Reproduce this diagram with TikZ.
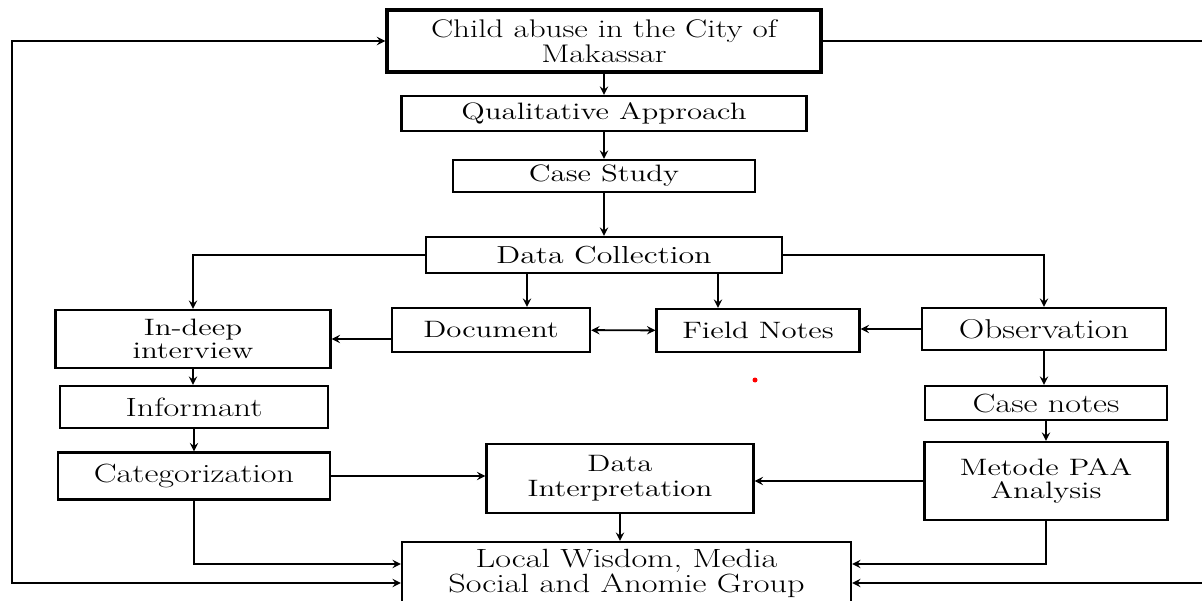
\documentclass[tikz,border=0pt]{standalone}
\usepackage{fontspec}
\setmainfont{Latin Modern Roman}[FakeStretch=1.3]
\usetikzlibrary{arrows, positioning, calc}
\tikzstyle{box} = [rectangle, draw=black, line width=1.3pt, text centered, align=center, inner sep=2pt, font=\fontsize{13.5}{13}\selectfont]
\tikzstyle{bigtext} = [font=\fontsize{15}{13}\selectfont]
\tikzstyle{mainbox} = [box, line width=2pt, font=\fontsize{14.5}{14.2}\selectfont]
\tikzstyle{arrow} = [line width=1.1pt,->,>=stealth]

\begin{document}
\begin{tikzpicture}[x=0.02cm, y=-0.02cm]
\clip (0,0) rectangle (1202,601);

\node (child) [mainbox, minimum width=8.68cm, minimum height=1.24cm] at (604,41) {Child abuse in the City of\\Makassar};
\node (qual) [box, minimum width=8.1cm, minimum height=0.7cm] at (604,113.5) {Qualitative Approach};
\node (case) [box, minimum width=6.04cm, minimum height=0.64cm] at (604,176) {Case Study};
\node (dc) [box, font=\fontsize{14}{13}\selectfont, minimum width=7.12cm, minimum height=0.72cm] at (604,255) {Data Collection};
\node (indeep) [box, minimum width=5.5cm, minimum height=1.16cm] at (193,339) {In-deep\\interview};
\node (doc) [box, minimum width=3.96cm, minimum height=0.88cm] at (491,330) {Document};
\node (field) [box, minimum width=4.06cm, minimum height=0.86cm] at (758,330.5) {Field Notes};
\node (obs) [box, font=\fontsize{15.5}{13}\selectfont, minimum width=4.88cm, minimum height=0.84cm] at (1044,329) {Observation};
\node (inf) [box, bigtext, minimum width=5.36cm, minimum height=0.84cm] at (194,407) {Informant};
\node (casen) [box, bigtext, minimum width=4.84cm, minimum height=0.68cm] at (1046,403) {Case notes};
\node (cat) [box, bigtext, minimum width=5.44cm, minimum height=0.94cm] at (194,476) {Categorization};
\node (interp) [box, font=\fontsize{13.5}{14.2}\selectfont, minimum width=5.34cm, minimum height=1.38cm] at (620,478.5) {Data\\Interpretation};
\node (paa) [box, minimum width=4.86cm, minimum height=1.56cm] at (1046,481) {Metode PAA\\Analysis};
\node (local) [box, bigtext, minimum width=8.98cm, minimum height=1.26cm] at (626.5,573.5) {Local Wisdom, Media\\Social and Anomie Group};

\coordinate (leftturn) at (12,583);
\coordinate (rightturn) at (1230,583);

\draw [arrow] (child) -- (qual);
\draw [arrow] (qual) -- (case);
\draw [arrow] (case) -- (dc);
\draw [arrow] (dc.west) -| (indeep.north);
\draw [arrow] ([xshift=-1.54cm]dc.south) -- ([xshift=0.72cm]doc.north);
\draw [arrow] ([xshift=2.28cm]dc.south) -- ([xshift=-0.8cm]field.north);
\draw [arrow] (dc.east) -| (obs.north);
\draw [arrow] (doc.west |- indeep) -- (indeep.east);
\draw [arrow, <->] (doc) -- (field);
\draw [arrow] (obs.west) -- (obs.west -| field.east);
\draw [arrow] (indeep.south) -- (indeep.south |- inf.north);
\draw [arrow] (inf.south) -- (inf.south |- cat.north);
\draw [arrow] (obs.south) -- (obs.south |- casen.north);
\draw [arrow] (casen.south) -- (casen.south |- paa.north);
\draw [arrow] (cat.east) -- (cat.east -| interp.west);
\draw [arrow] (paa.west) -- (paa.west -| interp.east);
\draw [arrow] (interp.south) -- (interp.south |- local.north);
\draw [arrow] (cat.south) |- ([yshift=0.19cm]local.west);
\draw [arrow] (paa.south) |- ([yshift=0.19cm]local.east);
\draw [arrow, <->] (child.west) -| (leftturn) -- ([yshift=-0.19cm]local.west);
\draw [arrow] (child.east) -| (rightturn) -- ([yshift=-0.19cm]local.east);

\fill [red] (755,380) circle (2.5);

\end{tikzpicture}
\end{document}
